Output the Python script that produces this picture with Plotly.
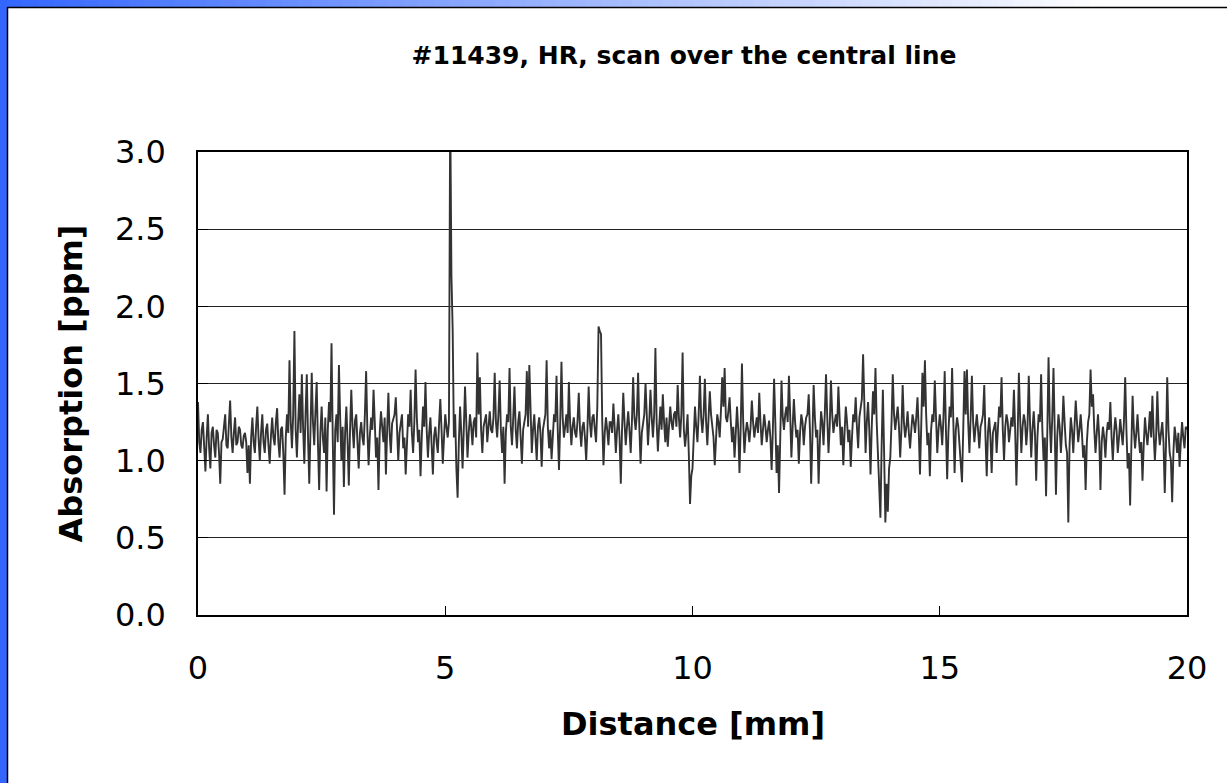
import plotly.graph_objects as go

# ---------------- data ----------------
STEP_MM = 0.025  # sampling step of the scan, mm

# absorption [ppm], 0.000 - 3.975 mm
absorption_00_04 = [
    1.38, 1.12, 1.05, 1.20, 1.25, 1.10, 0.93, 1.15, 1.30, 1.08,
    0.95, 1.18, 1.22, 1.10, 1.02, 1.20, 1.18, 1.05, 0.85, 1.12,
    1.14, 1.22, 1.30, 1.10, 1.08, 1.24, 1.39, 1.15, 1.05, 1.18,
    1.28, 1.10, 1.12, 1.22, 1.20, 1.10, 1.08, 1.16, 1.18, 1.12,
    0.92, 1.10, 0.85, 1.15, 1.28, 1.12, 1.05, 1.22, 1.35, 1.14,
    1.00, 1.18, 1.30, 1.12, 1.05, 1.20, 1.24, 1.10, 0.98, 1.16,
    1.28, 1.15, 1.10, 1.25, 1.34, 1.12, 1.02, 1.20, 1.22, 1.05,
    0.78, 1.15, 1.30, 1.18, 1.65, 1.25, 1.08, 1.30, 1.84, 1.20,
    1.02, 1.25, 1.43, 1.18, 1.56, 1.22, 0.98, 1.30, 1.56, 1.15,
    0.85, 1.20, 1.57, 1.25, 1.10, 1.32, 1.51, 1.12, 0.81, 1.18,
    1.35, 1.15, 1.05, 1.28, 0.80, 1.20, 1.38, 1.25, 1.76, 1.15,
    0.65, 1.20, 1.30, 1.12, 1.62, 1.28, 1.00, 1.22, 0.83, 1.18,
    1.35, 1.12, 0.84, 1.20, 1.46, 1.22, 1.08, 1.26, 1.30, 1.12,
    0.95, 1.18, 1.25, 1.15, 1.10, 1.30, 1.58, 1.20, 0.97, 1.16,
    1.28, 1.20, 1.46, 1.25, 1.02, 1.15, 0.81, 1.18, 1.32, 1.22,
    1.12, 1.28, 0.91, 1.20, 1.44, 1.18, 1.05, 1.24, 1.28, 1.30,
]
# absorption [ppm], 4.000 - 7.975 mm
absorption_04_08 = [
    1.41, 1.20, 1.00, 1.18, 1.25, 1.30, 1.08, 1.15, 0.91, 1.12,
    1.30, 1.22, 1.46, 1.18, 1.05, 1.25, 1.59, 1.28, 1.12, 1.20,
    0.90, 1.15, 1.35, 1.22, 1.51, 1.20, 1.02, 1.18, 1.28, 1.10,
    0.91, 1.16, 1.22, 1.12, 1.05, 1.24, 1.40, 1.20, 0.98, 1.15,
    1.30, 1.22, 1.15, 1.25, 3.30, 2.20, 1.85, 1.15, 1.30, 0.95,
    0.76, 1.12, 1.35, 1.18, 0.95, 1.20, 1.48, 1.25, 1.02, 1.18,
    1.30, 1.22, 1.10, 1.25, 1.28, 1.15, 1.70, 1.30, 1.54, 1.20,
    1.05, 1.22, 1.26, 1.30, 1.12, 1.25, 1.32, 1.20, 1.18, 1.28,
    1.57, 1.25, 1.15, 1.30, 1.52, 1.20, 1.05, 1.22, 0.85, 1.18,
    1.30, 1.25, 1.60, 1.22, 1.10, 1.28, 1.48, 1.20, 1.08, 1.25,
    1.32, 1.15, 0.98, 1.20, 1.25, 1.30, 1.58, 1.22, 1.62, 1.28,
    1.05, 1.20, 1.30, 1.15, 1.00, 1.22, 1.28, 1.18, 0.96, 1.20,
    1.25, 1.30, 1.65, 1.22, 1.08, 1.20, 1.01, 1.18, 1.30, 1.25,
    1.55, 1.20, 0.94, 1.25, 1.64, 1.28, 1.15, 1.22, 1.30, 1.18,
    1.51, 1.25, 1.10, 1.22, 1.28, 1.18, 1.15, 1.26, 1.44, 1.20,
    1.09, 1.22, 1.25, 1.15, 1.00, 1.20, 1.48, 1.25, 1.15, 1.28,
]
# absorption [ppm], 8.000 - 11.975 mm
absorption_08_12 = [
    1.30, 1.20, 1.12, 1.35, 1.87, 1.84, 1.82, 1.25, 0.97, 1.18,
    1.28, 1.20, 1.10, 1.25, 1.25, 1.18, 1.37, 1.22, 1.05, 1.20,
    1.30, 1.15, 0.85, 1.20, 1.44, 1.25, 1.10, 1.22, 1.32, 1.20,
    1.05, 1.25, 1.54, 1.28, 1.20, 1.30, 1.57, 1.22, 0.98, 1.18,
    1.25, 1.30, 1.50, 1.22, 1.10, 1.25, 1.46, 1.28, 1.15, 1.30,
    1.73, 1.25, 1.06, 1.22, 1.35, 1.20, 1.43, 1.25, 1.12, 1.28,
    1.09, 1.22, 1.35, 1.25, 1.20, 1.30, 1.32, 1.22, 1.49, 1.28,
    1.15, 1.30, 1.70, 1.20, 1.09, 1.18, 1.30, 1.05, 0.72, 0.90,
    0.95, 1.15, 1.35, 1.22, 1.12, 1.30, 1.55, 1.28, 1.18, 1.30,
    1.53, 1.25, 1.10, 1.28, 1.45, 1.30, 1.20, 1.15, 0.97, 1.20,
    1.30, 1.25, 1.15, 1.32, 1.54, 1.35, 1.60, 1.28, 1.25, 1.32,
    1.41, 1.25, 1.12, 1.22, 1.02, 1.18, 1.35, 1.20, 0.92, 1.22,
    1.63, 1.25, 1.05, 1.18, 1.25, 1.20, 1.12, 1.22, 1.39, 1.25,
    1.15, 1.22, 1.28, 1.18, 1.44, 1.25, 1.10, 1.20, 1.30, 1.22,
    1.12, 1.20, 1.26, 1.15, 0.94, 1.20, 1.53, 1.25, 0.92, 1.10,
    0.79, 1.15, 1.52, 1.28, 1.20, 1.30, 1.35, 1.25, 1.55, 1.30,
]
# absorption [ppm], 12.000 - 15.975 mm
absorption_12_16 = [
    1.02, 1.22, 1.40, 1.25, 1.15, 1.20, 0.98, 1.18, 1.30, 1.25,
    1.10, 1.22, 1.28, 1.30, 1.43, 1.20, 0.85, 1.15, 1.49, 1.28,
    1.15, 1.20, 0.85, 1.12, 1.32, 1.25, 1.10, 1.30, 1.56, 1.28,
    1.05, 1.22, 1.52, 1.30, 1.18, 1.25, 1.30, 1.22, 1.48, 1.28,
    1.10, 1.22, 0.97, 1.18, 1.35, 1.25, 1.12, 1.20, 0.96, 1.15,
    1.30, 1.25, 1.41, 1.22, 1.08, 1.28, 1.35, 1.40, 1.69, 1.30,
    1.05, 1.25, 1.38, 1.20, 0.91, 1.22, 1.45, 1.30, 1.60, 1.25,
    1.02, 0.90, 0.63, 1.10, 1.46, 1.05, 0.60, 0.85, 0.67, 0.95,
    1.02, 1.25, 1.56, 1.30, 1.20, 1.28, 1.35, 1.22, 1.02, 1.20,
    1.49, 1.25, 1.15, 1.22, 1.32, 1.18, 1.08, 1.20, 1.30, 1.25,
    1.18, 1.28, 1.41, 1.20, 0.91, 1.22, 1.57, 1.35, 1.65, 1.30,
    1.10, 1.18, 0.90, 1.20, 1.30, 1.25, 1.52, 1.28, 1.05, 1.20,
    1.30, 1.22, 1.10, 1.28, 1.58, 1.20, 0.88, 1.18, 1.35, 1.28,
    1.60, 1.25, 0.92, 1.20, 1.28, 1.22, 1.10, 1.05, 0.86, 1.20,
    1.58, 1.30, 1.59, 1.25, 1.05, 1.28, 1.55, 1.25, 1.12, 1.22,
    1.30, 1.20, 1.08, 1.22, 1.25, 1.30, 1.49, 1.15, 0.90, 1.18,
]
# absorption [ppm], 16.000 - 20.000 mm
absorption_16_20 = [
    1.28, 1.15, 0.92, 1.18, 1.22, 1.25, 1.05, 1.22, 1.35, 1.28,
    1.54, 1.20, 1.00, 1.22, 1.30, 1.25, 1.12, 1.20, 1.28, 1.22,
    1.46, 1.20, 0.84, 1.15, 1.57, 1.28, 1.05, 1.22, 1.30, 1.25,
    1.10, 1.22, 1.55, 1.25, 1.02, 1.20, 1.32, 1.18, 0.87, 1.15,
    1.30, 1.25, 1.56, 1.20, 1.00, 1.15, 0.77, 1.18, 1.67, 1.25,
    1.05, 1.28, 1.60, 1.20, 0.78, 1.15, 1.30, 1.22, 1.05, 1.20,
    1.42, 1.25, 1.10, 1.05, 0.60, 1.10, 1.28, 1.20, 1.05, 1.22,
    1.39, 1.25, 1.12, 1.20, 1.30, 1.18, 1.02, 1.10, 0.81, 1.12,
    1.25, 1.30, 1.59, 1.35, 1.43, 1.20, 1.05, 1.18, 1.30, 1.15,
    0.81, 1.12, 1.22, 1.15, 1.02, 1.18, 1.25, 1.20, 1.38, 1.15,
    1.00, 1.18, 1.28, 1.20, 1.05, 1.15, 1.27, 1.18, 1.10, 1.25,
    1.54, 1.20, 0.95, 1.05, 0.71, 1.10, 1.42, 1.20, 1.08, 1.18,
    1.30, 1.15, 1.05, 1.12, 0.87, 1.10, 1.28, 1.18, 1.10, 1.20,
    1.32, 1.15, 1.42, 1.18, 1.00, 1.15, 1.45, 1.20, 1.10, 1.18,
    1.25, 1.12, 0.79, 1.10, 1.54, 1.20, 1.05, 1.00, 0.73, 1.05,
    1.22, 1.15, 1.05, 1.18, 0.96, 1.12, 1.25, 1.15, 1.08, 1.22,
    1.20,
]

absorption = (absorption_00_04 + absorption_04_08 + absorption_08_12
              + absorption_12_16 + absorption_16_20)
distance = [round(i * STEP_MM, 3) for i in range(len(absorption))]

title_text = "#11439, HR, scan over the central line"
x_title = "Distance [mm]"
y_title = "Absorption [ppm]"
x_ticks = [0, 5, 10, 15, 20]
y_ticks = [0.0, 0.5, 1.0, 1.5, 2.0, 2.5, 3.0]

# ---------------- layout geometry (pixels) ----------------
W, H = 1227, 783
L, R, T, B = 198, 1187, 152, 615


def px(x):
    return (x - L) / (R - L)


def py(y):
    return (B - y) / (B - T)


shapes = []
# left blue bar
shapes.append(dict(type="rect", xref="paper", yref="paper",
                   x0=px(0), x1=px(7), y0=py(H), y1=py(0),
                   fillcolor="rgb(51,102,255)", line_width=0, layer="above"))
# top gradient bar (blue -> white)
n = 80
gx0, gx1 = 7, W
for i in range(n):
    xa = gx0 + (gx1 - gx0) * i / n
    xb = gx0 + (gx1 - gx0) * (i + 1) / n
    t = min(1.0, ((xa + xb) / 2) / 1100)
    r = int(51 + (255 - 51) * t)
    g = int(102 + (255 - 102) * t)
    shapes.append(dict(type="rect", xref="paper", yref="paper",
                       x0=px(xa), x1=px(xb + 0.8), y0=py(7), y1=py(0),
                       fillcolor=f"rgb({r},{g},255)", line_width=0, layer="above"))
# thin dark frame lines
shapes.append(dict(type="line", xref="paper", yref="paper",
                   x0=px(7), x1=px(W), y0=py(7.5), y1=py(7.5),
                   line=dict(color="black", width=1.5), layer="above"))
shapes.append(dict(type="line", xref="paper", yref="paper",
                   x0=px(7.5), x1=px(7.5), y0=py(7), y1=py(H),
                   line=dict(color="black", width=1.5), layer="above"))

fig = go.Figure()
fig.add_trace(go.Scatter(
    x=distance, y=absorption, mode="lines",
    line=dict(color="#333333", width=1.9),
    showlegend=False, hoverinfo="skip",
))

tick_font = dict(family="DejaVu Sans", size=32, color="black")

fig.update_layout(
    width=W, height=H,
    margin=dict(l=L, r=W - R, t=T, b=H - B, pad=0),
    paper_bgcolor="white", plot_bgcolor="white",
    showlegend=False,
    shapes=shapes,
    title=dict(text=title_text, x=684 / W,
               xanchor="center", yref="container", y=1 - 55 / H,
               yanchor="middle",
               font=dict(family="DejaVu Sans", size=25, color="black",
                         weight="bold")),
    xaxis=dict(range=[0, 20], tickvals=x_ticks, ticktext=[str(v) for v in x_ticks],
               ticks="inside", ticklen=9, tickwidth=1, tickcolor="black",
               showline=True, mirror=True, linecolor="black", linewidth=1.5,
               showgrid=False, zeroline=False, tickfont=tick_font,
               ticklabelstandoff=24),
    yaxis=dict(range=[0, 3], tickvals=y_ticks,
               ticktext=[f"{v:.1f}" for v in y_ticks],
               ticks="inside", ticklen=10, tickwidth=1, tickcolor="black",
               showline=True, mirror=True, linecolor="black", linewidth=1.5,
               showgrid=True, gridcolor="#222222", gridwidth=1,
               zeroline=False, tickfont=tick_font, ticklabelstandoff=24),
    annotations=[
        dict(text=x_title, xref="paper", yref="paper", x=0.5, y=py(724),
             xanchor="center", yanchor="middle", showarrow=False,
             font=dict(family="DejaVu Sans", size=32, color="black", weight="bold")),
        dict(text=y_title, xref="paper", yref="paper", x=px(70), y=0.5,
             xanchor="center", yanchor="middle", showarrow=False, textangle=-90,
             font=dict(family="DejaVu Sans", size=32, color="black", weight="bold")),
    ],
)

fig.write_html("out.html")
